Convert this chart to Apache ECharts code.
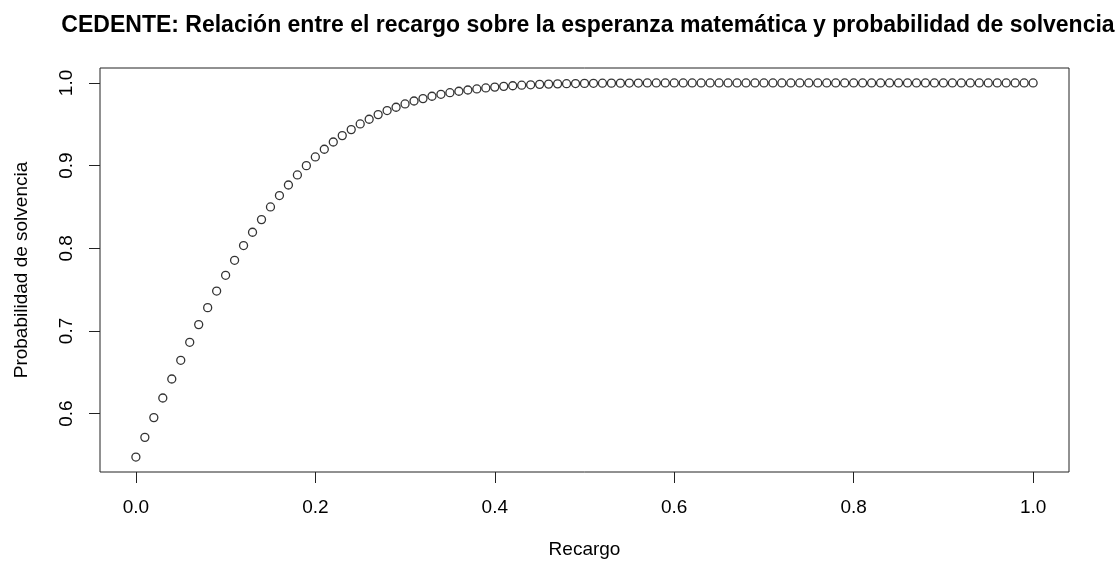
<!DOCTYPE html>
<html>
<head>
<meta charset="utf-8">
<script src="https://cdn.jsdelivr.net/npm/echarts@6/dist/echarts.min.js"></script>
<style>
html,body{margin:0;padding:0;background:#fff;}
#chart{width:1117px;height:566px;}
</style>
</head>
<body>
<div id="chart"></div>
<script>
const titleText = "CEDENTE: Relación entre el recargo sobre la esperanza matemática y probabilidad de solvencia";
const xName = "Recargo";
const yName = "Probabilidad de solvencia";

const recargo = [
  0.00,0.01,0.02,0.03,0.04,0.05,0.06,0.07,0.08,0.09,
  0.10,0.11,0.12,0.13,0.14,0.15,0.16,0.17,0.18,0.19,
  0.20,0.21,0.22,0.23,0.24,0.25,0.26,0.27,0.28,0.29,
  0.30,0.31,0.32,0.33,0.34,0.35,0.36,0.37,0.38,0.39,
  0.40,0.41,0.42,0.43,0.44,0.45,0.46,0.47,0.48,0.49,
  0.50,0.51,0.52,0.53,0.54,0.55,0.56,0.57,0.58,0.59,
  0.60,0.61,0.62,0.63,0.64,0.65,0.66,0.67,0.68,0.69,
  0.70,0.71,0.72,0.73,0.74,0.75,0.76,0.77,0.78,0.79,
  0.80,0.81,0.82,0.83,0.84,0.85,0.86,0.87,0.88,0.89,
  0.90,0.91,0.92,0.93,0.94,0.95,0.96,0.97,0.98,0.99,
  1.00
];

const probSolvencia = [
  0.5475,0.5713,0.5952,0.6189,0.6419,0.6645,0.6863,0.7077,0.7282,0.7483,
  0.7673,0.7855,0.8033,0.8194,0.8347,0.8500,0.8638,0.8766,0.8887,0.9000,
  0.9105,0.9198,0.9286,0.9363,0.9436,0.9504,0.9561,0.9617,0.9666,0.9706,
  0.9746,0.9782,0.9811,0.9839,0.9863,0.9882,0.9900,0.9915,0.9928,0.9940,
  0.9950,0.9959,0.9966,0.9973,0.9978,0.9983,0.9986,0.9989,0.9991,0.9993,
  0.9995,0.9996,0.9997,0.9998,0.9998,0.9999,0.9999,1.0000,1.0000,1.0000,
  1.0000,1.0000,1.0000,1.0000,1.0000,1.0000,1.0000,1.0000,1.0000,1.0000,
  1.0000,1.0000,1.0000,1.0000,1.0000,1.0000,1.0000,1.0000,1.0000,1.0000,
  1.0000,1.0000,1.0000,1.0000,1.0000,1.0000,1.0000,1.0000,1.0000,1.0000,
  1.0000,1.0000,1.0000,1.0000,1.0000,1.0000,1.0000,1.0000,1.0000,1.0000,
  1.0000
];

const xTicks = [0.0, 0.2, 0.4, 0.6, 0.8, 1.0];
const yTicks = [0.6, 0.7, 0.8, 0.9, 1.0];

// R-style 4% axis extension
const xMinD = Math.min(...recargo), xMaxD = Math.max(...recargo);
const yMinD = Math.min(...probSolvencia), yMaxD = Math.max(...probSolvencia);
const xPad = (xMaxD - xMinD) * 0.04, yPad = (yMaxD - yMinD) * 0.04;

const font = "'Liberation Sans', Arial, Helvetica, sans-serif";

const chart = echarts.init(document.getElementById('chart'), null, {renderer: 'canvas'});
chart.setOption({
  backgroundColor: '#ffffff',
  animation: false,
  title: {
    text: titleText,
    left: 583,
    textAlign: 'center',
    top: 9,
    textStyle: {fontFamily: font, fontWeight: 'bold', fontSize: 23, color: '#000'}
  },
  grid: {
    left: 100, right: 48, top: 68, bottom: 94,
    show: true, borderColor: '#222', borderWidth: 1, backgroundColor: 'transparent'
  },
  xAxis: {
    type: 'value',
    min: xMinD - xPad, max: xMaxD + xPad,
    name: xName, nameLocation: 'middle', nameGap: 68,
    nameTextStyle: {fontFamily: font, fontSize: 19, color: '#000'},
    axisLine: {show: false, onZero: false},
    splitLine: {show: false},
    axisTick: {show: true, length: 11, lineStyle: {color: '#222', width: 1}, customValues: xTicks},
    axisLabel: {
      customValues: xTicks, margin: 26,
      fontFamily: font, fontSize: 19, color: '#000',
      formatter: v => v.toFixed(1)
    }
  },
  yAxis: {
    type: 'value',
    min: yMinD - yPad, max: yMaxD + yPad,
    name: yName, nameLocation: 'middle', nameGap: 69,
    nameTextStyle: {fontFamily: font, fontSize: 19, color: '#000'},
    axisLine: {show: false, onZero: false},
    splitLine: {show: false},
    axisTick: {show: true, length: 11, lineStyle: {color: '#222', width: 1}, customValues: yTicks},
    axisLabel: {
      customValues: yTicks, margin: 24, rotate: 90,
      fontFamily: font, fontSize: 19, color: '#000',
      formatter: v => v.toFixed(1)
    }
  },
  series: [{
    type: 'scatter',
    data: recargo.map((x, i) => [x, probSolvencia[i]]),
    symbol: 'circle',
    symbolSize: 8,
    itemStyle: {color: 'transparent', borderColor: '#000', borderWidth: 1.3},
    emphasis: {disabled: true}
  }]
});
</script>
</body>
</html>
